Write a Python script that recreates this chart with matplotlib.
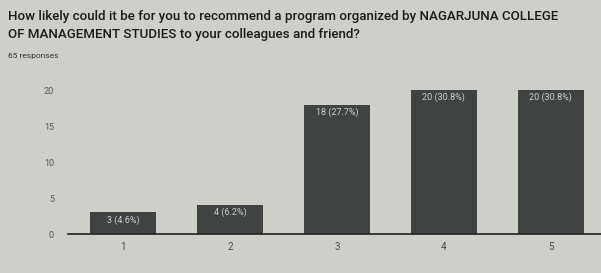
import matplotlib
matplotlib.use("Agg")
import matplotlib.pyplot as plt

categories = ["1", "2", "3", "4", "5"]
counts = [3, 4, 18, 20, 20]
labels = ["3 (4.6%)", "4 (6.2%)", "18 (27.7%)", "20 (30.8%)", "20 (30.8%)"]
yticks = [0, 5, 10, 15, 20]
title = "How likely could it be for you to recommend a program organized by NAGARJUNA COLLEGE\nOF MANAGEMENT STUDIES to your colleagues and friend?"
subtitle = "65 responses"

plt.rcParams['font.family'] = ['Roboto', 'DejaVu Sans']
bg = '#cfcfca'
fig = plt.figure(figsize=(6.01, 2.73), dpi=100, facecolor=bg)
ax = fig.add_axes([68/601, 39/273, 1 - 68/601, (234 - 83)/273])
ax.set_facecolor(bg)
x = list(range(1, len(categories) + 1))
bars = ax.bar(x, counts, width=0.62, color='#3f4442')
for xi, c, lab in zip(x, counts, labels):
    ax.text(xi, c - 0.35, lab, ha='center', va='top', color='#d0d0cc', fontsize=6.5)
ax.set_xlim(0.486, 5.47)
ax.set_ylim(0, 21)
ax.set_xticks(x)
ax.set_xticklabels(categories, fontsize=7, color='#444444')
ax.set_yticks(yticks)
ax.set_yticklabels([str(t) for t in yticks], fontsize=6.5, color='#555555')
ax.tick_params(length=0, pad=10)
ax.tick_params(axis='x', pad=6)
for s in ['top', 'right', 'left']:
    ax.spines[s].set_visible(False)
ax.spines['bottom'].set_color('#222222')
ax.spines['bottom'].set_linewidth(1.2)
fig.text(8/601, 1 - 25.5/273, title, fontsize=9.6, color='#1a1a1a', ha='left', va='center',
         linespacing=1.45, fontweight='medium')
fig.text(8/601, 1 - 56/273, subtitle, fontsize=6, color='#333333', ha='left', va='center')
fig.savefig("out.png", dpi=100, facecolor=bg)
